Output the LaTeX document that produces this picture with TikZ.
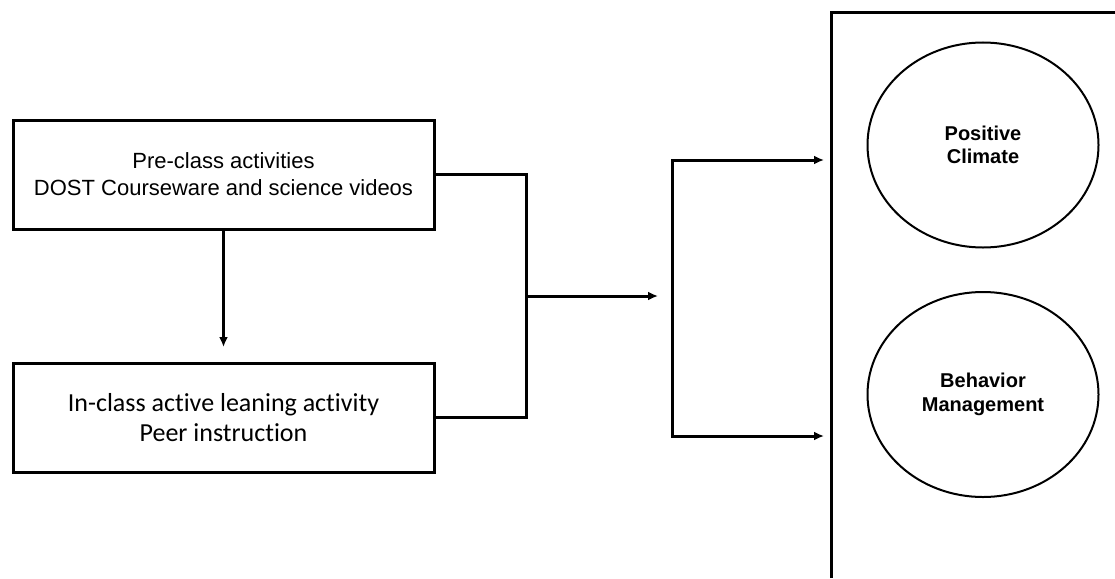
\documentclass[tikz,border=0pt]{standalone}
\usepackage{fontspec}
\setmainfont{Liberation Sans}
\newfontfamily\calibri[Ligatures=NoCommon]{Carlito}
\usepackage{tikz}
\usetikzlibrary{shapes.geometric,arrows.meta}

\begin{document}
\begin{tikzpicture}[x=1pt,y=-1pt,
    box/.style={draw,line width=3pt,rectangle,minimum width=421pt,minimum height=109pt,inner sep=0pt,align=center},
    goal/.style={draw,line width=2pt,ellipse,minimum width=231pt,minimum height=205pt,inner sep=0pt,align=center,font=\bfseries\fontsize{20}{23.5}\selectfont},
    arr/.style={line width=3pt,-{Latex[length=10pt,width=9pt]}},
    link/.style={line width=3pt}]
            \useasboundingbox (0,0) rectangle (1115,578);

            % left boxes
            \node[box,font=\fontsize{22}{27}\selectfont] (pre) at (223.5,174.5)
                {Pre-class activities\\DOST Courseware and science videos};
            \node[box,font=\calibri\fontsize{26}{30}\selectfont] (inc) at (223.5,417.5)
                {In-class active leaning activity\\Peer instruction};

            \coordinate (preTip) at (223.5,347);
            \draw[arr] (pre.south) -- (preTip);

            % join and forward arrow
            \coordinate (join) at (526,296);
            \coordinate (mid) at (658,296);
            \draw[link] (pre.east) -| (join) |- (inc.east);
            \draw[arr] (join) -- (mid);

            % fork to the panel
            \coordinate (forkT) at (672,160);
            \coordinate (forkB) at (672,436);
            \coordinate (tipT) at (824,160);
            \coordinate (tipB) at (824,436);
            \draw[line width=3pt,{Latex[length=10pt,width=9pt]}-{Latex[length=10pt,width=9pt]}]
                (tipT) -- (forkT) -- (forkB) -- (tipB);

            % panel
            \draw[line width=3pt] (831,578) -- (831,12.5) -- (1115,12.5);

            \node[goal] (climate) at (983,145) {Positive\\Climate};
            \node[goal] (behave) at (983,394.5) {Behavior\\Management};
        \end{tikzpicture}
\end{document}
